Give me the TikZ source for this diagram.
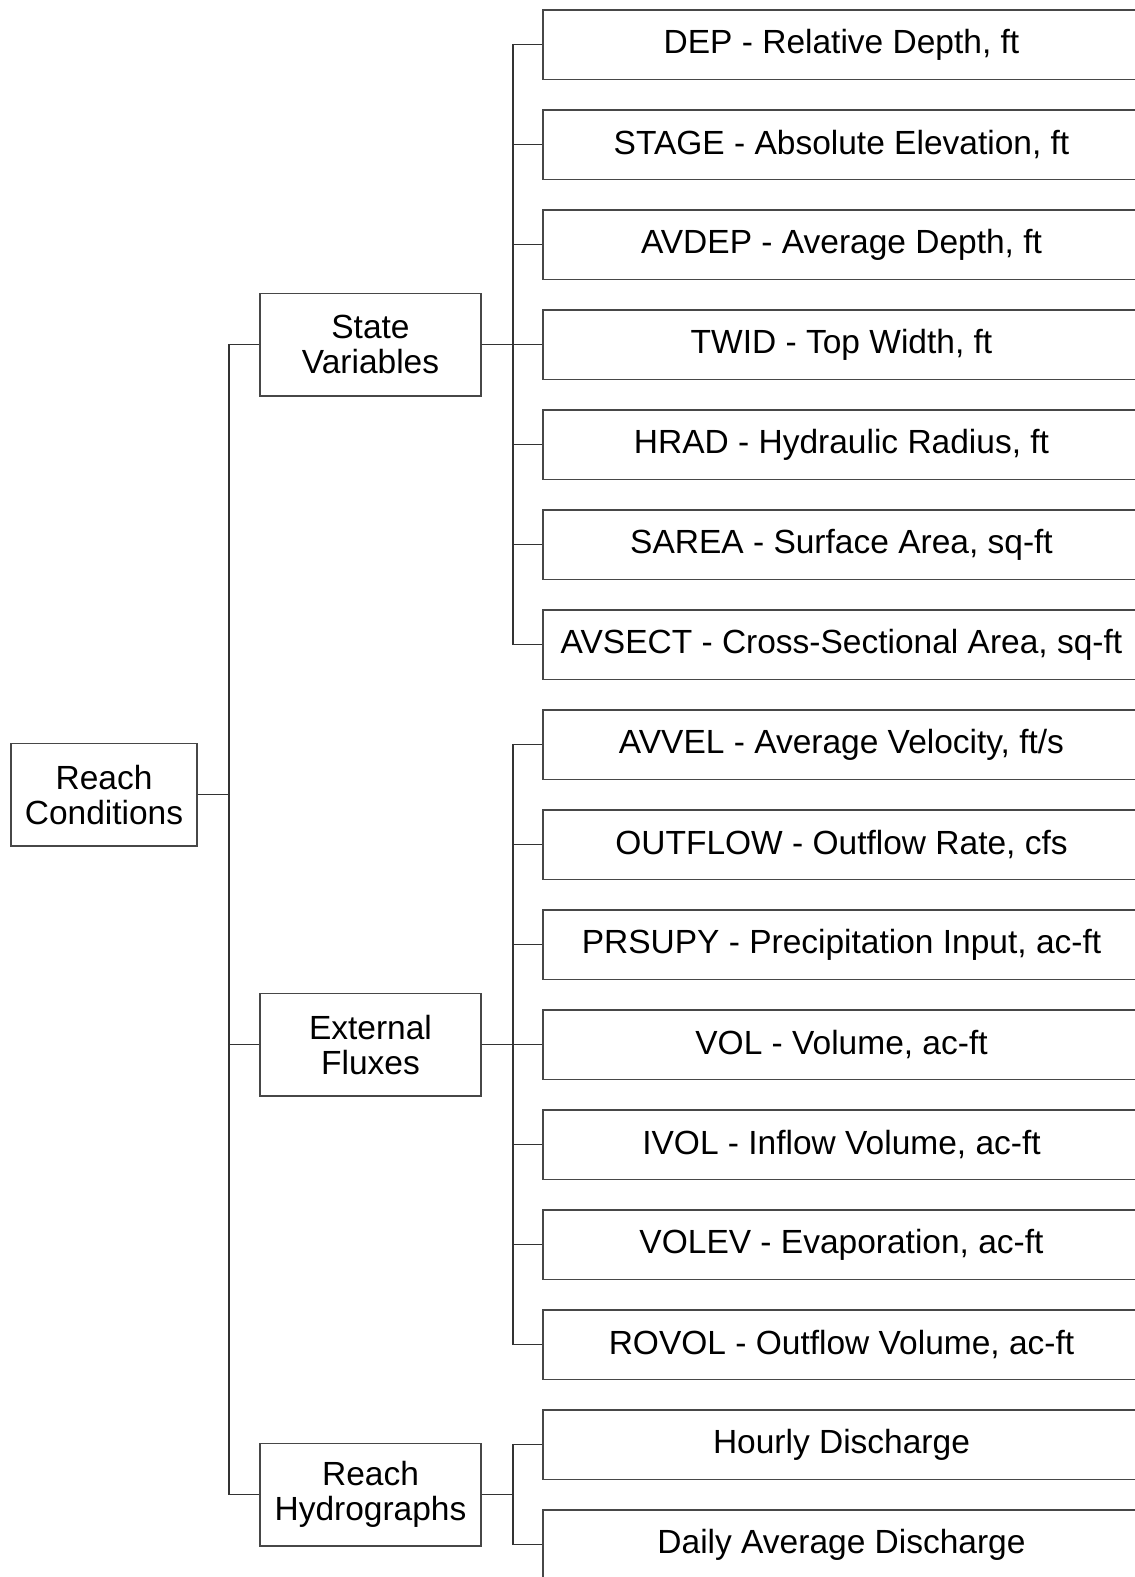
\documentclass[tikz,border=0pt]{standalone}
\usepackage{fontspec}
\setmainfont{Liberation Sans}
\begin{document}
\begin{tikzpicture}[x=1pt,y=-1pt,
  box/.style={draw=black!72, line width=1.3pt, fill=white, align=center, inner sep=0pt,
    font=\fontsize{33.5}{35}\selectfont},
  leaf/.style={box, minimum width=597pt, minimum height=69.5pt},
  mid/.style={box, minimum width=221pt, minimum height=102.5pt},
  conn/.style={draw=black!80, line width=1.2pt}]
\useasboundingbox (0,0) rectangle (1135,1577);
\coordinate (t0) at (229,0);
\coordinate (t1) at (513,0);
% root
\node[box, minimum width=186pt, minimum height=102.5pt] (rc) at (104,794.75) {Reach\\Conditions};
% mid
\node[mid] (sv) at (370.5,344.75) {State\\Variables};
\node[mid] (ef) at (370.5,1044.75) {External\\Fluxes};
\node[mid] (rh) at (370.5,1494.75) {Reach\\Hydrographs};
% leaves
\node[leaf] (l0) at (841.5,44.75) {DEP - Relative Depth, ft};
\node[leaf] (l1) at (841.5,144.75) {STAGE - Absolute Elevation, ft};
\node[leaf] (l2) at (841.5,244.75) {AVDEP - Average Depth, ft};
\node[leaf] (l3) at (841.5,344.75) {TWID - Top Width, ft};
\node[leaf] (l4) at (841.5,444.75) {HRAD - Hydraulic Radius, ft};
\node[leaf] (l5) at (841.5,544.75) {SAREA - Surface Area, sq-ft};
\node[leaf] (l6) at (841.5,644.75) {AVSECT - Cross-Sectional Area, sq-ft};
\node[leaf] (l7) at (841.5,744.75) {AVVEL - Average Velocity, ft/s};
\node[leaf] (l8) at (841.5,844.75) {OUTFLOW - Outflow Rate, cfs};
\node[leaf] (l9) at (841.5,944.75) {PRSUPY - Precipitation Input, ac-ft};
\node[leaf] (l10) at (841.5,1044.75) {VOL - Volume, ac-ft};
\node[leaf] (l11) at (841.5,1144.75) {IVOL - Inflow Volume, ac-ft};
\node[leaf] (l12) at (841.5,1244.75) {VOLEV - Evaporation, ac-ft};
\node[leaf] (l13) at (841.5,1344.75) {ROVOL - Outflow Volume, ac-ft};
\node[leaf] (l14) at (841.5,1444.75) {Hourly Discharge};
\node[leaf] (l15) at (841.5,1544.75) {Daily Average Discharge};
% connectors
\foreach \m in {sv,ef,rh}
  \draw[conn] (rc.east) -- (rc.east -| t0) |- (\m.west);
\foreach \l in {l0,l1,l2,l3,l4,l5,l6}
  \draw[conn] (sv.east) -- (sv.east -| t1) |- (\l.west);
\foreach \l in {l7,l8,l9,l10,l11,l12,l13}
  \draw[conn] (ef.east) -- (ef.east -| t1) |- (\l.west);
\foreach \l in {l14,l15}
  \draw[conn] (rh.east) -- (rh.east -| t1) |- (\l.west);
\end{tikzpicture}
\end{document}
